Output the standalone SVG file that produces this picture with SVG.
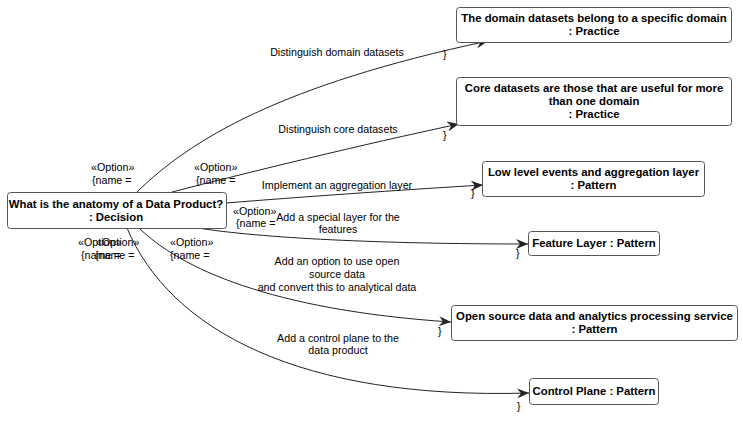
<svg xmlns="http://www.w3.org/2000/svg" width="743" height="429" viewBox="0 0 743 429">
<style>
.n rect{fill:#fff;stroke:#555;stroke-width:1}
.n text{font-family:"Liberation Sans",Arial,sans-serif;font-size:11.35px;font-weight:bold;fill:#000;text-anchor:middle}
.e path{fill:none;stroke:#222;stroke-width:1}
.l{font-family:"Liberation Sans",Arial,sans-serif;font-size:10.7px;fill:#000}
.m{text-anchor:middle}
</style>
<defs>
<marker id="ar" viewBox="0 0 12 10" refX="12" refY="5" markerWidth="12" markerHeight="10" markerUnits="userSpaceOnUse" orient="auto">
<path d="M0,0 L12,5 L0,10 L4,5 Z" fill="#222"/>
</marker>
</defs>
<rect width="743" height="429" fill="#fff"/>
<g id="connectors" class="e">
<path d="M137,192 C190,140 280,85 488,41" marker-end="url(#ar)"/>
<path d="M172,192 C250,172 360,145 459,124" marker-end="url(#ar)"/>
<path d="M226,203 C300,197 400,190 483,185" marker-end="url(#ar)"/>
<path d="M198,228 C260,238 380,244 528,244" marker-end="url(#ar)"/>
<path d="M139,228 C180,268 270,310 451,322" marker-end="url(#ar)"/>
<path d="M127,228 C170,330 300,400 529,393" marker-end="url(#ar)"/>
</g>
<g id="edge-labels" class="l">
<text class="m" x="337" y="56">Distinguish domain datasets</text>
<text class="m" x="338" y="133">Distinguish core datasets</text>
<text class="m" x="337" y="189">Implement an aggregation layer</text>
<text class="m" x="338" y="221">Add a special layer for the</text>
<text class="m" x="338" y="233">features</text>
<text class="m" x="337" y="265">Add an option to use open</text>
<text class="m" x="337" y="278">source data</text>
<text class="m" x="337" y="291">and convert this to analytical data</text>
<text class="m" x="338" y="342">Add a control plane to the</text>
<text class="m" x="338" y="354">data product</text>
<text x="91" y="171">«Option»</text>
<text x="92" y="184">{name =</text>
<text x="194" y="171">«Option»</text>
<text x="196" y="184">{name =</text>
<text x="233" y="215">«Option»</text>
<text x="236" y="227">{name =</text>
<text x="78" y="246">«Option»</text>
<text x="81" y="259">{name =</text>
<text x="96" y="246">«Option»</text>
<text x="95" y="259">{name =</text>
<text x="170" y="246">«Option»</text>
<text x="170" y="259">{name =</text>
<text x="443" y="58">}</text>
<text x="443" y="139">}</text>
<text x="471" y="197">}</text>
<text x="516" y="257">}</text>
<text x="438" y="335">}</text>
<text x="517" y="410">}</text>
</g>
<g id="decision" class="n">
<rect x="7.5" y="192.5" width="219" height="36" rx="3"/>
<text x="116" y="208">What is the anatomy of a Data Product?</text>
<text x="116" y="221">: Decision</text>
</g>
<g id="domain-datasets" class="n">
<rect x="456.5" y="7.5" width="275" height="35" rx="3"/>
<text x="594" y="22">The domain datasets belong to a specific domain</text>
<text x="594" y="35">: Practice</text>
</g>
<g id="core-datasets" class="n">
<rect x="456.5" y="77.5" width="275" height="48" rx="3"/>
<text x="594" y="92">Core datasets are those that are useful for more</text>
<text x="594" y="105">than one domain</text>
<text x="594" y="118">: Practice</text>
</g>
<g id="aggregation-layer" class="n">
<rect x="482.5" y="161.5" width="222" height="35" rx="3"/>
<text x="593.5" y="176">Low level events and aggregation layer</text>
<text x="593.5" y="189">: Pattern</text>
</g>
<g id="feature-layer" class="n">
<rect x="528.5" y="231.5" width="131" height="24" rx="3"/>
<text x="594" y="247">Feature Layer : Pattern</text>
</g>
<g id="open-source" class="n">
<rect x="451.5" y="305.5" width="286" height="35" rx="3"/>
<text x="594.5" y="320">Open source data and analytics processing service</text>
<text x="594.5" y="333">: Pattern</text>
</g>
<g id="control-plane" class="n">
<rect x="529.5" y="378.5" width="129" height="26" rx="3"/>
<text x="594" y="395">Control Plane : Pattern</text>
</g>
</svg>
